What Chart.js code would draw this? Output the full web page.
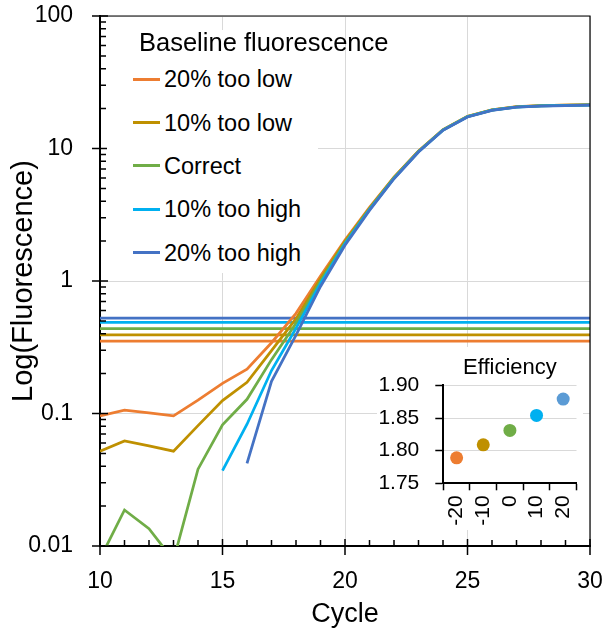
<!DOCTYPE html>
<html>
<head>
<meta charset="utf-8">
<script src="https://cdn.jsdelivr.net/npm/chart.js@4.4.0/dist/chart.umd.min.js"></script>
<style>
    html, body { margin: 0; padding: 0; background: #fff; }
    #wrap { position: relative; width: 613px; height: 635px; font-family: "Liberation Sans", Arial, sans-serif; color: #000; }
    #mainChart { position: absolute; left: 0; top: 0; }
    #legendBox { position: absolute; left: 107px; top: 30px; width: 211px; height: 243px; background: #fff; }
    .legend-title { position: absolute; left: 139px; top: 27px; font-size: 25.5px; line-height: 30px; white-space: nowrap; }
    .legend-item { position: absolute; left: 133px; height: 30px; display: flex; align-items: center; font-size: 23.5px; line-height: 30px; white-space: nowrap; }
    .legend-item .swatch { width: 27px; height: 3px; margin-right: 4px; }
    #insetBox { position: absolute; left: 377px; top: 347px; width: 206px; height: 183px; background: #fff; }
</style>
</head>
<body>
<div id="wrap">
    <canvas id="mainChart" width="613" height="635"></canvas>
    <div id="legendBox"></div>
    <div id="legend"></div>
    <div id="insetBox"><canvas id="insetChart" width="206" height="183"></canvas></div>
</div>
<script>
// Cycles on the x axis
const cycles = [10, 11, 12, 13, 14, 15, 16, 17, 18, 19, 20, 21, 22, 23, 24, 25, 26, 27, 28, 29, 30];

// Fluorescence per cycle, one list per baseline setting (null = negative, not plotted)
const low20  = [0.096, 0.106, 0.101, 0.096, 0.126, 0.169, 0.216, 0.342, 0.57, 1.09, 2.04, 3.59, 6.09, 9.59, 13.89, 17.49, 19.59, 20.69, 21.09, 21.29, 21.39];
const low10  = [0.052, 0.062, 0.057, 0.052, 0.081, 0.125, 0.172, 0.298, 0.52, 1.04, 1.99, 3.54, 6.04, 9.54, 13.84, 17.44, 19.54, 20.64, 21.04, 21.24, 21.34];
const correct = [0.008, 0.0187, 0.0135, 0.0078, 0.038, 0.082, 0.128, 0.255, 0.48, 1.0, 1.95, 3.5, 6.0, 9.5, 13.8, 17.4, 19.5, 20.6, 21.0, 21.2, 21.3];
const high10 = [null, null, null, null, null, 0.037, 0.083, 0.211, 0.44, 0.96, 1.91, 3.46, 5.96, 9.46, 13.76, 17.36, 19.46, 20.56, 20.96, 21.16, 21.26];
const high20 = [null, null, null, null, null, null, 0.042, 0.175, 0.39, 0.91, 1.86, 3.41, 5.91, 9.41, 13.71, 17.31, 19.41, 20.51, 20.91, 21.11, 21.21];

// Threshold level for each series
const thresholds = [0.352, 0.392, 0.438, 0.487, 0.525];

const seriesNames = ['20% too low', '10% too low', 'Correct', '10% too high', '20% too high'];
const seriesData = [low20, low10, correct, high10, high20];
const seriesColors = ['#ED7D31', '#BF9000', '#70AD47', '#00B0F0', '#4472C4'];

// Axis ticks
const xTickValues = [10, 15, 20, 25, 30];
const yTickValues = [0.01, 0.1, 1, 10, 100];
const yTickLabels = ['0.01', '0.1', '1', '10', '100'];

// Inset: amplification efficiency vs baseline error
const insetLabels = ['-20', '-10', '0', '10', '20'];
const efficiency = [1.789, 1.809, 1.831, 1.854, 1.879];
const insetColors = ['#ED7D31', '#BF9000', '#70AD47', '#00B0F0', '#5B9BD5'];
const insetTicks = [1.75, 1.80, 1.85, 1.90];

const FONT = '"Liberation Sans", Arial, sans-serif';

// Build the legend from the series lists
function buildLegend() {
    const legend = document.getElementById('legend');
    const title = document.createElement('div');
    title.className = 'legend-title';
    title.textContent = 'Baseline fluorescence';
    legend.appendChild(title);
    seriesNames.forEach((name, i) => {
        const item = document.createElement('div');
        item.className = 'legend-item';
        item.style.top = (79.3 + i * 43.3 - 15) + 'px';
        const swatch = document.createElement('span');
        swatch.className = 'swatch';
        swatch.style.background = seriesColors[i];
        const label = document.createElement('span');
        label.textContent = name;
        item.appendChild(swatch);
        item.appendChild(label);
        legend.appendChild(item);
    });
}

// Don't let tick label overhang push the plot area around
function fixScaleSize(size) {
    return (scale) => {
        if (scale.isHorizontal()) {
            scale.height = size;
            scale.paddingLeft = 0;
            scale.paddingRight = 0;
        } else {
            scale.width = size;
            scale.paddingTop = 0;
            scale.paddingBottom = 0;
        }
    };
}

// Frame on top/right plus Excel-style tick marks
const frameAndTicks = {
    id: 'frameAndTicks',
    afterDraw(chart) {
        const { ctx, chartArea: a, scales: { x, y } } = chart;
        ctx.save();
        ctx.strokeStyle = '#000';
        ctx.lineWidth = 1.2;
        ctx.beginPath();
        ctx.moveTo(a.left, a.top);
        ctx.lineTo(a.right, a.top);
        ctx.lineTo(a.right, a.bottom);
        ctx.stroke();

        ctx.lineWidth = 1.5;
        ctx.beginPath();
        for (let c = cycles[0]; c <= cycles[cycles.length - 1]; c++) {
            const px = x.getPixelForValue(c);
            if (xTickValues.includes(c)) {
                ctx.moveTo(px, a.bottom - 7);
                ctx.lineTo(px, a.bottom + 9);
            } else {
                ctx.moveTo(px, a.bottom - 6);
                ctx.lineTo(px, a.bottom);
            }
        }
        yTickValues.forEach((d, i) => {
            const py = y.getPixelForValue(d);
            ctx.moveTo(a.left - 8, py);
            ctx.lineTo(a.left + 8, py);
            if (i < yTickValues.length - 1) {
                for (let m = 2; m <= 9; m++) {
                    const pm = y.getPixelForValue(d * m);
                    ctx.moveTo(a.left, pm);
                    ctx.lineTo(a.left + 6, pm);
                }
            }
        });
        ctx.stroke();
        ctx.restore();
    }
};

function createMainChart() {
    const datasets = [];
    seriesNames.forEach((name, i) => {
        datasets.push({
            label: name,
            data: cycles.map((c, k) => ({ x: c, y: seriesData[i][k] })),
            borderColor: seriesColors[i],
            backgroundColor: seriesColors[i],
            borderWidth: 2.75,
            pointRadius: 0,
            tension: 0,
            order: seriesNames.length - i
        });
    });
    thresholds.forEach((t, i) => {
        datasets.push({
            label: seriesNames[i] + ' threshold',
            data: [{ x: cycles[0], y: t }, { x: cycles[cycles.length - 1], y: t }],
            borderColor: seriesColors[i],
            borderWidth: 2.75,
            pointRadius: 0,
            order: 10 + seriesNames.length - i
        });
    });

    const ctx = document.getElementById('mainChart').getContext('2d');
    return new Chart(ctx, {
        type: 'line',
        data: { datasets: datasets },
        options: {
            responsive: false,
            animation: false,
            layout: { padding: { top: 16, right: 23, left: 0, bottom: 0 } },
            plugins: {
                legend: { display: false },
                tooltip: { enabled: false }
            },
            scales: {
                x: {
                    type: 'linear',
                    min: 10,
                    max: 30,
                    afterBuildTicks: (scale) => { scale.ticks = xTickValues.map(v => ({ value: v })); },
                    afterFit: fixScaleSize(89),
                    grid: { color: '#d9d9d9', drawTicks: false },
                    border: { color: '#000', width: 2 },
                    ticks: { color: '#000', padding: 22, font: { family: FONT, size: 23 } },
                    title: {
                        display: true,
                        text: 'Cycle',
                        color: '#000',
                        font: { family: FONT, size: 27 },
                        padding: { top: 0, bottom: 4 }
                    }
                },
                y: {
                    type: 'logarithmic',
                    min: 0.01,
                    max: 100,
                    afterBuildTicks: (scale) => { scale.ticks = yTickValues.map(v => ({ value: v })); },
                    afterFit: fixScaleSize(100),
                    grid: { color: '#d9d9d9', drawTicks: false },
                    border: { color: '#000', width: 2 },
                    ticks: {
                        color: '#000',
                        padding: 27,
                        font: { family: FONT, size: 23 },
                        callback: (v) => {
                            const idx = yTickValues.indexOf(v);
                            return idx >= 0 ? yTickLabels[idx] : '';
                        }
                    },
                    title: {
                        display: true,
                        text: 'Log(Fluorescence)',
                        color: '#000',
                        font: { family: FONT, size: 29 },
                        padding: { top: 7, bottom: 0 }
                    }
                }
            }
        },
        plugins: [frameAndTicks]
    });
}

function createInsetChart() {
    const ctx = document.getElementById('insetChart').getContext('2d');
    return new Chart(ctx, {
        type: 'line',
        data: {
            labels: insetLabels,
            datasets: [{
                label: 'Efficiency',
                data: efficiency,
                showLine: false,
                pointRadius: 6.5,
                pointBorderWidth: 0,
                pointBackgroundColor: insetColors,
                pointBorderColor: insetColors
            }]
        },
        options: {
            responsive: false,
            animation: false,
            layout: { padding: 0 },
            plugins: {
                legend: { display: false },
                tooltip: { enabled: false },
                title: {
                    display: true,
                    text: 'Efficiency',
                    fullSize: false,
                    color: '#000',
                    font: { family: FONT, size: 22, weight: 'normal' },
                    padding: { top: 8, bottom: 4 }
                }
            },
            scales: {
                x: {
                    type: 'category',
                    offset: true,
                    afterFit: fixScaleSize(46.7),
                    grid: { offset: true, drawOnChartArea: false, tickLength: 7, tickColor: '#000', tickWidth: 1.5 },
                    border: { color: '#000', width: 2 },
                    ticks: { color: '#000', autoSkip: false, minRotation: 90, maxRotation: 90, padding: 5, font: { family: FONT, size: 21 } }
                },
                y: {
                    min: 1.75,
                    max: 1.90,
                    afterBuildTicks: (scale) => { scale.ticks = insetTicks.map(v => ({ value: v })); },
                    afterFit: fixScaleSize(66.3),
                    grid: { color: '#d9d9d9', tickLength: 8, tickColor: '#000', tickWidth: 1.5 },
                    border: { color: '#000', width: 2 },
                    ticks: { color: '#000', padding: 16, font: { family: FONT, size: 21 }, callback: (v) => Number(v).toFixed(2) }
                }
            }
        }
    });
}

buildLegend();
createMainChart();
createInsetChart();
</script>
</body>
</html>
